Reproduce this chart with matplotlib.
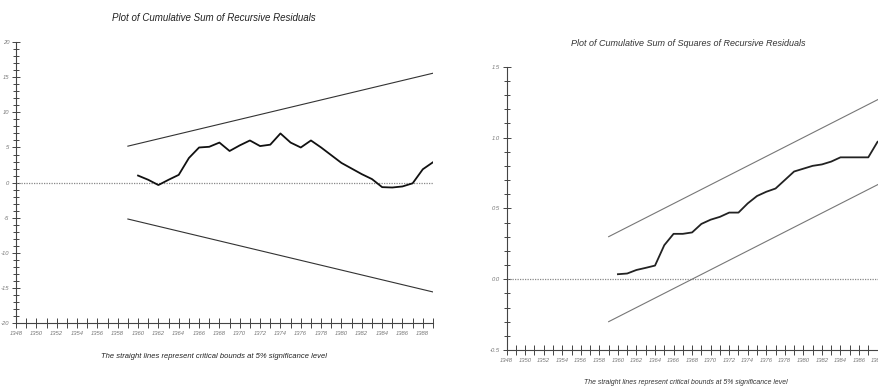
import matplotlib
matplotlib.use("Agg")
import matplotlib.pyplot as plt
from matplotlib import font_manager as fm
from matplotlib.ticker import MultipleLocator

# narrow italic font like the original, if we have it
try:
    fm.findfont(fm.FontProperties(family="Liberation Sans Narrow"), fallback_to_default=False)
    narrow = True
except ValueError:
    narrow = False
plt.rcParams['font.family'] = ['Liberation Sans Narrow', 'Liberation Sans', 'DejaVu Sans']
fs = 1 / 0.82 if narrow else 1.05

years = list(range(1360, 1390))
bound_years = [1359, 1389]

cusum = [1.0, 0.4, -0.35, 0.4, 1.1, 3.5, 5.0, 5.1, 5.7, 4.5,
         5.3, 6.0, 5.2, 5.4, 7.0, 5.7, 5.0, 6.0, 5.0, 3.9,
         2.8, 2.0, 1.2, 0.5, -0.65, -0.7, -0.55, -0.1, 1.9, 2.9]
cusum_upper = [5.19, 15.58]
cusum_lower = [-5.19, -15.58]

cusumsq = [0.035, 0.04, 0.065, 0.08, 0.096, 0.24, 0.32, 0.32, 0.33, 0.39,
           0.42, 0.44, 0.47, 0.47, 0.535, 0.587, 0.617, 0.64, 0.70, 0.76,
           0.78, 0.80, 0.81, 0.83, 0.86, 0.86, 0.86, 0.86, 0.97, 1.0]
sq_upper = [0.30, 1.30]
sq_lower = [-0.30, 0.70]

note = "The straight lines represent critical bounds at 5% significance level"


def style_axes(ax, ymajor, yminor, ylim):
    ax.set_xlim(1348, 1389)
    ax.set_ylim(*ylim)
    for s in ["top", "right"]:
        ax.spines[s].set_visible(False)
    for s in ["left", "bottom"]:
        ax.spines[s].set_color("#444444")
        ax.spines[s].set_linewidth(0.8)
    ax.xaxis.set_major_locator(MultipleLocator(2))
    ax.xaxis.set_minor_locator(MultipleLocator(1))
    ax.yaxis.set_major_locator(MultipleLocator(ymajor))
    ax.yaxis.set_minor_locator(MultipleLocator(yminor))
    ax.tick_params(which="both", direction="inout", color="#444444", width=0.7,
                   labelsize=4.0 * fs, labelcolor="#777777", pad=2)
    ax.tick_params(axis="x", which="both", length=7)
    ax.tick_params(axis="y", which="major", length=6)
    ax.tick_params(axis="y", which="minor", length=4)
    for lab in ax.get_xticklabels() + ax.get_yticklabels():
        lab.set_fontstyle("italic")
    ax.axhline(0, color="#888888", lw=0.9, ls=(0, (1, 1)))


fig = plt.figure(figsize=(8.79, 3.87), dpi=100)

# left: CUSUM
ax1 = fig.add_axes([0.0182, 0.1654, 0.4744, 0.7256])
style_axes(ax1, 5, 1, (-20, 20))
ax1.yaxis.set_major_formatter(plt.FuncFormatter(lambda v, p: "%d" % v))
ax1.plot(bound_years, cusum_upper, color="#333333", lw=0.8)
ax1.plot(bound_years, cusum_lower, color="#333333", lw=0.8)
ax1.plot(years, cusum, color="#111111", lw=1.3)
fig.text(0.243, 0.953, "Plot of Cumulative Sum of Recursive Residuals",
         ha="center", va="center", fontsize=6.7 * fs, style="italic", color="#222222")
fig.text(0.243, 0.08, note, ha="center", va="center", fontsize=5.2 * fs,
         style="italic", color="#222222")

# right: CUSUM of squares
ax2 = fig.add_axes([0.5764, 0.0956, 0.4325, 0.7321])
style_axes(ax2, 0.5, 0.1, (-0.5, 1.5))
ax2.yaxis.set_major_formatter(plt.FuncFormatter(lambda v, p: "%.1f" % v))
ax2.plot(bound_years, sq_upper, color="#777777", lw=0.8)
ax2.plot(bound_years, sq_lower, color="#777777", lw=0.8)
ax2.plot(years, cusumsq, color="#222222", lw=1.3)
fig.text(0.783, 0.888, "Plot of Cumulative Sum of Squares of Recursive Residuals",
         ha="center", va="center", fontsize=6.2 * fs, style="italic", color="#333333")
fig.text(0.78, 0.012, note, ha="center", va="center", fontsize=4.75 * fs,
         style="italic", color="#333333")

fig.savefig("out.png", dpi=100)
